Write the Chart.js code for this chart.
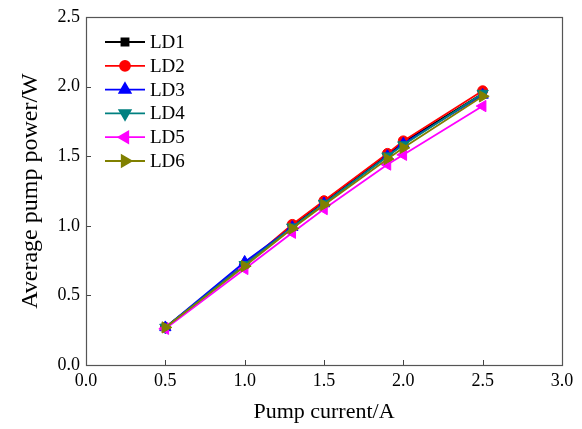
<!DOCTYPE html>
<html>
<head>
<meta charset="utf-8">
<script src="https://cdn.jsdelivr.net/npm/chart.js@4/dist/chart.umd.min.js"></script>
<style>
  html, body { margin: 0; padding: 0; background: #fff; }
  #wrap { width: 582px; height: 429px; }
</style>
</head>
<body>
<div id="wrap"><canvas id="pumpChart" width="582" height="429"></canvas></div>
<script>
// pump current (A)
const currents = [0.5, 1.0, 1.3, 1.5, 1.9, 2.0, 2.5];

// average pump power (W) for each laser diode
const ld1 = [0.27, 0.72, 1.00, 1.17, 1.51, 1.60, 1.95];
const ld2 = [0.27, 0.72, 1.01, 1.18, 1.52, 1.61, 1.97];
const ld3 = [0.27, 0.74, 0.99, 1.16, 1.50, 1.59, 1.94];
const ld4 = [0.27, 0.72, 0.99, 1.16, 1.50, 1.58, 1.95];
const ld5 = [0.26, 0.69, 0.95, 1.12, 1.44, 1.51, 1.86];
const ld6 = [0.27, 0.71, 0.98, 1.15, 1.48, 1.56, 1.93];

const seriesNames = ["LD1", "LD2", "LD3", "LD4", "LD5", "LD6"];
const xTicks = [0.0, 0.5, 1.0, 1.5, 2.0, 2.5, 3.0];
const yTicks = [0.0, 0.5, 1.0, 1.5, 2.0, 2.5];

const styles = [
    { color: "#000000", point: "rect", rot: 0, r: 5 },
    { color: "#ff0000", point: "circle", rot: 0, r: 5 },
    { color: "#0000ff", point: "triangle", rot: 0, r: 6.5 },
    { color: "#008080", point: "triangle", rot: 180, r: 6.5 },
    { color: "#ff00ff", point: "triangle", rot: -90, r: 6.5 },
    { color: "#808000", point: "triangle", rot: 90, r: 6.5 }
];

const allSeries = [ld1, ld2, ld3, ld4, ld5, ld6];

const datasets = allSeries.map((vals, i) => ({
    label: seriesNames[i],
    data: vals.map((v, k) => ({ x: currents[k], y: v })),
    showLine: true,
    borderColor: styles[i].color,
    backgroundColor: styles[i].color,
    borderWidth: 1.8,
    pointStyle: styles[i].point,
    rotation: styles[i].rot,
    pointRadius: styles[i].r,
    pointBorderWidth: 1,
    order: seriesNames.length - i  // later series drawn on top
}));

const serif = "'Liberation Serif', 'Times New Roman', serif";

// inward ticks, top/right frame and the line+marker legend
const framePlugin = {
    id: "frame",
    afterDraw(chart) {
        const ctx = chart.ctx;
        const a = chart.chartArea;
        const xs = chart.scales.x, ys = chart.scales.y;
        ctx.save();
        ctx.strokeStyle = "#444";
        ctx.lineWidth = 1;
        ctx.beginPath();
        xTicks.forEach(t => {
            if (t === 0 || t === 3) return;
            const px = Math.round(xs.getPixelForValue(t)) + 0.5;
            ctx.moveTo(px, a.bottom);
            ctx.lineTo(px, a.bottom - 5);
        });
        yTicks.forEach(t => {
            if (t === 0 || t === 2.5) return;
            const py = Math.round(ys.getPixelForValue(t)) + 0.5;
            ctx.moveTo(a.left, py);
            ctx.lineTo(a.left + 5, py);
        });
        ctx.stroke();

        ctx.strokeStyle = "#555";
        ctx.lineWidth = 1.2;
        ctx.strokeRect(a.left + 0.5, a.top + 0.5, a.right - a.left, a.bottom - a.top);

        // legend
        const lx = a.left + 19, ly = a.top + 25, step = 23.8;
        chart.data.datasets.forEach((ds, i) => {
            const y = ly + i * step;
            ctx.strokeStyle = ds.borderColor;
            ctx.lineWidth = 1.8;
            ctx.beginPath();
            ctx.moveTo(lx, y);
            ctx.lineTo(lx + 40, y);
            ctx.stroke();
            ctx.fillStyle = ds.backgroundColor;
            Chart.helpers.drawPoint(ctx, {
                pointStyle: ds.pointStyle,
                rotation: ds.rotation,
                radius: ds.pointRadius,
                borderWidth: 1
            }, lx + 20, y);
            ctx.fillStyle = "#000";
            ctx.font = "19px " + serif;
            ctx.textBaseline = "middle";
            ctx.fillText(ds.label, lx + 45, y + 1);
        });
        ctx.restore();
    }
};

new Chart(document.getElementById("pumpChart"), {
    type: "scatter",
    data: { datasets },
    options: {
        responsive: false,
        animation: false,
        layout: { padding: { top: 17, right: 20, left: 0, bottom: 0 } },
        plugins: {
            legend: { display: false },
            tooltip: { enabled: false }
        },
        scales: {
            x: {
                type: "linear",
                min: 0, max: 3,
                afterFit(s) { s.height = 64; },
                afterBuildTicks(s) { s.ticks = xTicks.map(v => ({ value: v })); },
                grid: { display: false, drawTicks: false },
                border: { display: false },
                ticks: {
                    color: "#000",
                    font: { family: serif, size: 18 },
                    padding: 5,
                    callback: v => v.toFixed(1)
                },
                title: {
                    display: true,
                    text: "Pump current/A",
                    color: "#000",
                    font: { family: serif, size: 22 },
                    padding: { top: 8 }
                }
            },
            y: {
                type: "linear",
                min: 0, max: 2.5,
                afterFit(s) { s.width = 86; },
                afterBuildTicks(s) { s.ticks = yTicks.map(v => ({ value: v })); },
                grid: { display: false, drawTicks: false },
                border: { display: false },
                ticks: {
                    color: "#000",
                    font: { family: serif, size: 18 },
                    padding: 6,
                    callback: v => v.toFixed(1)
                },
                title: {
                    display: true,
                    text: "Average pump power/W",
                    color: "#000",
                    font: { family: serif, size: 24 },
                    padding: { top: 16, bottom: 0 }
                }
            }
        }
    },
    plugins: [framePlugin]
});
</script>
</body>
</html>
